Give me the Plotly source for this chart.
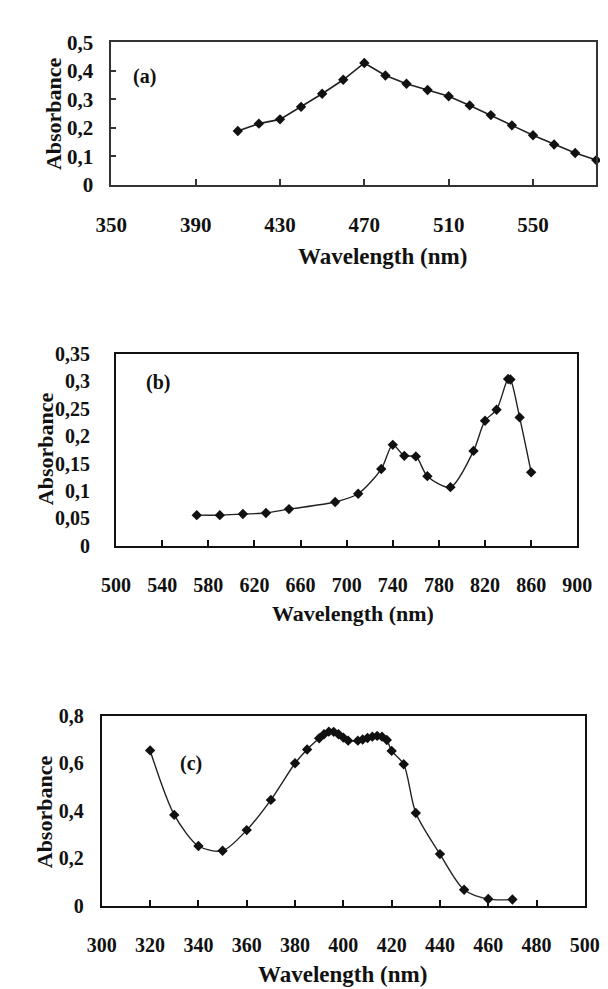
import plotly.graph_objects as go

# ---------------- data ----------------
wl_a = [410, 420, 430, 440, 450, 460, 470, 480, 490, 500, 510, 520, 530, 540, 550, 560, 570, 580]
abs_a = [0.189, 0.215, 0.230, 0.274, 0.320, 0.369, 0.428, 0.384, 0.355, 0.333, 0.311, 0.279,
         0.245, 0.209, 0.174, 0.142, 0.112, 0.087]

wl_b = [570, 590, 610, 630, 650, 690, 710, 730, 740, 750, 760, 770, 790, 810, 820, 830, 840, 842, 850, 860]
abs_b = [0.056, 0.056, 0.058, 0.060, 0.067, 0.080, 0.095, 0.140, 0.184, 0.164, 0.163, 0.127,
         0.107, 0.173, 0.228, 0.248, 0.304, 0.303, 0.234, 0.134]

wl_c = [320, 330, 340, 350, 360, 370, 380, 385, 390, 392, 394, 396, 398, 400, 402, 406, 408,
        410, 412, 414, 416, 418, 420, 425, 430, 440, 450, 460, 470]
abs_c = [0.654, 0.383, 0.252, 0.232, 0.319, 0.446, 0.600, 0.658, 0.705, 0.722, 0.733, 0.732,
         0.722, 0.708, 0.695, 0.695, 0.700, 0.706, 0.712, 0.715, 0.712, 0.698, 0.652, 0.596,
         0.391, 0.218, 0.068, 0.029, 0.027]

xt_a = [350, 390, 430, 470, 510, 550]
yt_a = [0, 0.1, 0.2, 0.3, 0.4, 0.5]
yl_a = ["0", "0,1", "0,2", "0,3", "0,4", "0,5"]

xt_b = [500, 540, 580, 620, 660, 700, 740, 780, 820, 860, 900]
yt_b = [0, 0.05, 0.1, 0.15, 0.2, 0.25, 0.3, 0.35]
yl_b = ["0", "0,05", "0,1", "0,15", "0,2", "0,25", "0,3", "0,35"]

xt_c = [300, 320, 340, 360, 380, 400, 420, 440, 460, 480, 500]
yt_c = [0, 0.2, 0.4, 0.6, 0.8]
yl_c = ["0", "0,2", "0,4", "0,6", "0,8"]

x_title = "Wavelength (nm)"
y_title = "Absorbance"

# ---------------- layout helpers ----------------
W, H = 608, 989
FONT = "Liberation Serif"


def px(x):
    return x / W


def py(y):
    return 1 - y / H


fig = go.Figure()

fig.add_trace(go.Scatter(x=wl_a, y=abs_a, mode="lines+markers", xaxis="x", yaxis="y",
                         line=dict(color="#222222", width=1.6),
                         marker=dict(symbol="diamond", size=8, color="#111111"),
                         cliponaxis=False, showlegend=False))
fig.add_trace(go.Scatter(x=wl_b, y=abs_b, mode="lines+markers", xaxis="x2", yaxis="y2",
                         line=dict(color="#222222", width=1.4, shape="spline", smoothing=0.8),
                         marker=dict(symbol="diamond", size=8, color="#111111"),
                         cliponaxis=False, showlegend=False))
fig.add_trace(go.Scatter(x=wl_c, y=abs_c, mode="lines+markers", xaxis="x3", yaxis="y3",
                         line=dict(color="#222222", width=1.4, shape="spline", smoothing=0.8),
                         marker=dict(symbol="diamond", size=8, color="#111111"),
                         cliponaxis=False, showlegend=False))


def xaxis(dom, rng, tv, anchor, size, lw, color, standoff):
    return dict(domain=dom, range=rng, tickvals=tv, ticktext=[str(v) for v in tv],
                anchor=anchor, showgrid=False, zeroline=False, showline=True, mirror=True,
                linecolor=color, linewidth=lw, ticks="inside", ticklen=6, tickwidth=1.5,
                tickcolor=color, ticklabelstandoff=standoff,
                tickfont=dict(family=FONT, size=size, color="#111111", weight="bold"))


def yaxis(dom, rng, tv, tl, anchor, size, lw, color, standoff, ticks):
    return dict(domain=dom, range=rng, tickvals=tv, ticktext=tl, anchor=anchor,
                showgrid=False, zeroline=False, showline=True, mirror=True,
                linecolor=color, linewidth=lw, ticks=ticks, ticklen=5, tickwidth=1.5,
                tickcolor=color, ticklabelstandoff=standoff,
                tickfont=dict(family=FONT, size=size, color="#111111", weight="bold"))


fig.update_layout(
    width=W, height=H, margin=dict(l=0, r=0, t=0, b=0),
    paper_bgcolor="white", plot_bgcolor="white", showlegend=False,
    xaxis=xaxis([px(92), px(603)], [350, 580], xt_a, "y", 21, 1.5, "#333333", 20),
    yaxis=yaxis([py(169), py(23)], [0, 0.5], yt_a, yl_a, "x", 21, 1.5, "#333333", 12, "inside"),
    xaxis2=xaxis([px(97), px(583)], [500, 900], xt_b, "y2", 20, 2, "#111111", 20),
    yaxis2=yaxis([py(539), py(342)], [0, 0.35], yt_b, yl_b, "x2", 20, 2, "#111111", 20, ""),
    xaxis3=xaxis([px(82), px(591)], [300, 500], xt_c, "y3", 20, 2, "#111111", 20),
    yaxis3=yaxis([py(908), py(713)], [0, 0.8], yt_c, yl_c, "x3", 20, 2, "#111111", 12, ""),
)


def label(text, x, y, size, angle=0):
    fig.add_annotation(text=text, x=px(x), y=py(y), xref="paper", yref="paper",
                       xanchor="center", yanchor="middle", showarrow=False, textangle=angle,
                       font=dict(family=FONT, size=size, color="#111111", weight="bold"))


label(x_title, 378, 242, 23)
label(x_title, 347, 608, 22)
label(x_title, 336, 978, 23)
label(y_title, 31, 96, 22, -90)
label(y_title, 23, 439, 22, -90)
label(y_title, 21, 811, 22, -90)
label("(a)", 127, 58, 20)
label("(b)", 141, 372, 20)
label("(c)", 176, 762, 20)

fig.write_html("out.html")
